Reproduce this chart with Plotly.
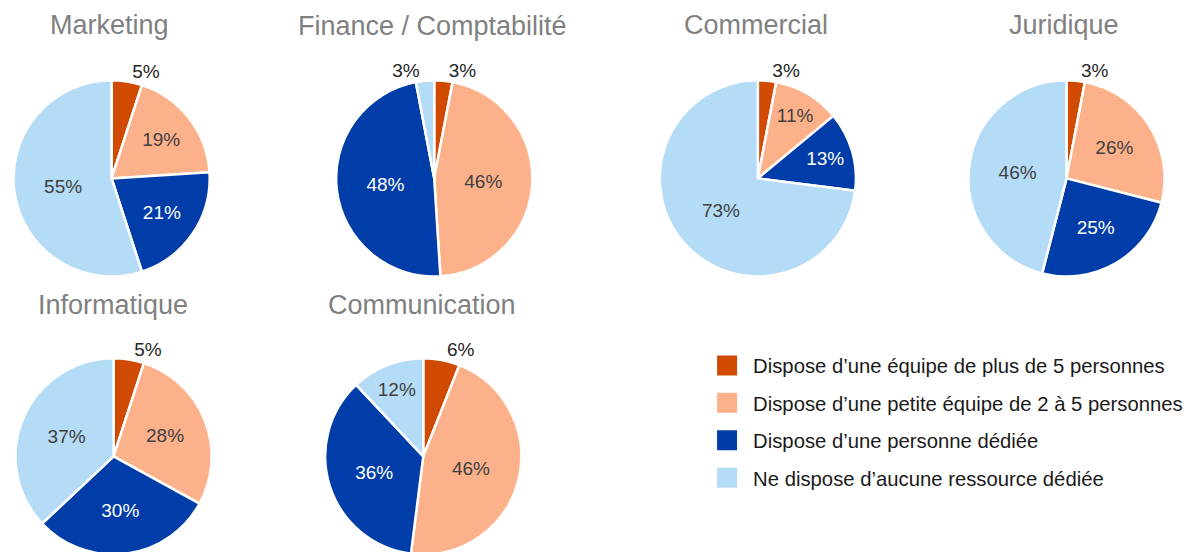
'''
    Pie charts: resources dedicated per department.
'''

import plotly.graph_objects as go

# Categories (clockwise from 12 o'clock)
categories = [
    "Dispose d’une équipe de plus de 5 personnes",
    "Dispose d’une petite équipe de 2 à 5 personnes",
    "Dispose d’une personne dédiée",
    "Ne dispose d’aucune ressource dédiée",
]

departments = ["Marketing", "Finance / Comptabilité", "Commercial",
               "Juridique", "Informatique", "Communication"]

marketing = [5, 19, 21, 55]
finance = [3, 46, 48, 3]
commercial = [3, 11, 13, 73]
juridique = [3, 26, 25, 46]
informatique = [5, 28, 30, 37]
communication = [6, 46, 36, 12]

series = [marketing, finance, commercial, juridique, informatique, communication]

colors = ["#D04A02", "#FDB18B", "#003DA8", "#B5DCF6"]
inside_text_colors = ["#404040", "#404040", "#FFFFFF", "#404040"]

W, H = 1183, 552
OFF_X, OFF_Y = 10, 8  # page body margin (+ small correction)
FONT = "Liberation Sans, Arial, Helvetica, sans-serif"

# pie centres and radius in page pixels (layout only)
centres = [(109, 179), (433, 179), (758, 179), (1068, 179), (111, 458), (422, 458)]
R = 98.5
title_y = [25, 26, 25, 25, 306, 306]
title_x = [107, 431, 756, 1065, 110, 421]


def to_domain(cx, cy, r):
    cx, cy = cx - OFF_X, cy - OFF_Y
    x0 = max(0, (cx - r) / W)
    x1 = min(1, (cx + r) / W)
    y0 = max(0, 1 - (cy + r) / H)
    y1 = min(1, 1 - (cy - r) / H)
    return dict(x=[x0, x1], y=[y0, y1])


fig = go.Figure()

for name, values, (cx, cy) in zip(departments, series, centres):
    fig.add_trace(go.Pie(
        labels=categories,
        values=values,
        sort=False,
        direction="clockwise",
        rotation=0,
        domain=to_domain(cx, cy, R),
        marker=dict(colors=colors, line=dict(color="white", width=2.5)),
        texttemplate="%{value}%",
        textposition="auto",
        insidetextorientation="horizontal",
        insidetextfont=dict(color=inside_text_colors, size=19, family=FONT),
        outsidetextfont=dict(color="#262626", size=19, family=FONT),
        showlegend=False,
        hoverinfo="label+value",
        name=name,
    ))

# legend entries (square swatches)
for label, color in zip(categories, colors):
    fig.add_trace(go.Scatter(
        x=[None], y=[None],
        mode="markers",
        marker=dict(symbol="square", size=20, color=color,
                    line=dict(color=color, width=4)),
        name=label,
        legendgroup=label,
        showlegend=True,
    ))

# titles
for name, tx, ty in zip(departments, title_x, title_y):
    fig.add_annotation(
        text=name, x=(tx - OFF_X) / W, y=1 - (ty - OFF_Y) / H,
        xref="paper", yref="paper",
        xanchor="center", yanchor="middle", showarrow=False,
        font=dict(size=27, color="#808080", family=FONT),
    )

fig.update_layout(
    width=W, height=H,
    margin=dict(l=0, r=0, t=0, b=0),
    paper_bgcolor="white",
    plot_bgcolor="white",
    font=dict(family=FONT),
    uniformtext=dict(minsize=19, mode="show"),
    xaxis=dict(visible=False),
    yaxis=dict(visible=False),
    legend=dict(
        x=(701 - OFF_X) / W, y=1 - 339 / H, xanchor="left", yanchor="top",
        font=dict(size=20.3, color="#1a1a1a", family=FONT),
        traceorder="grouped", tracegroupgap=8,
        itemwidth=42,
        bgcolor="rgba(0,0,0,0)",
    ),
)

fig.write_html("out.html")
